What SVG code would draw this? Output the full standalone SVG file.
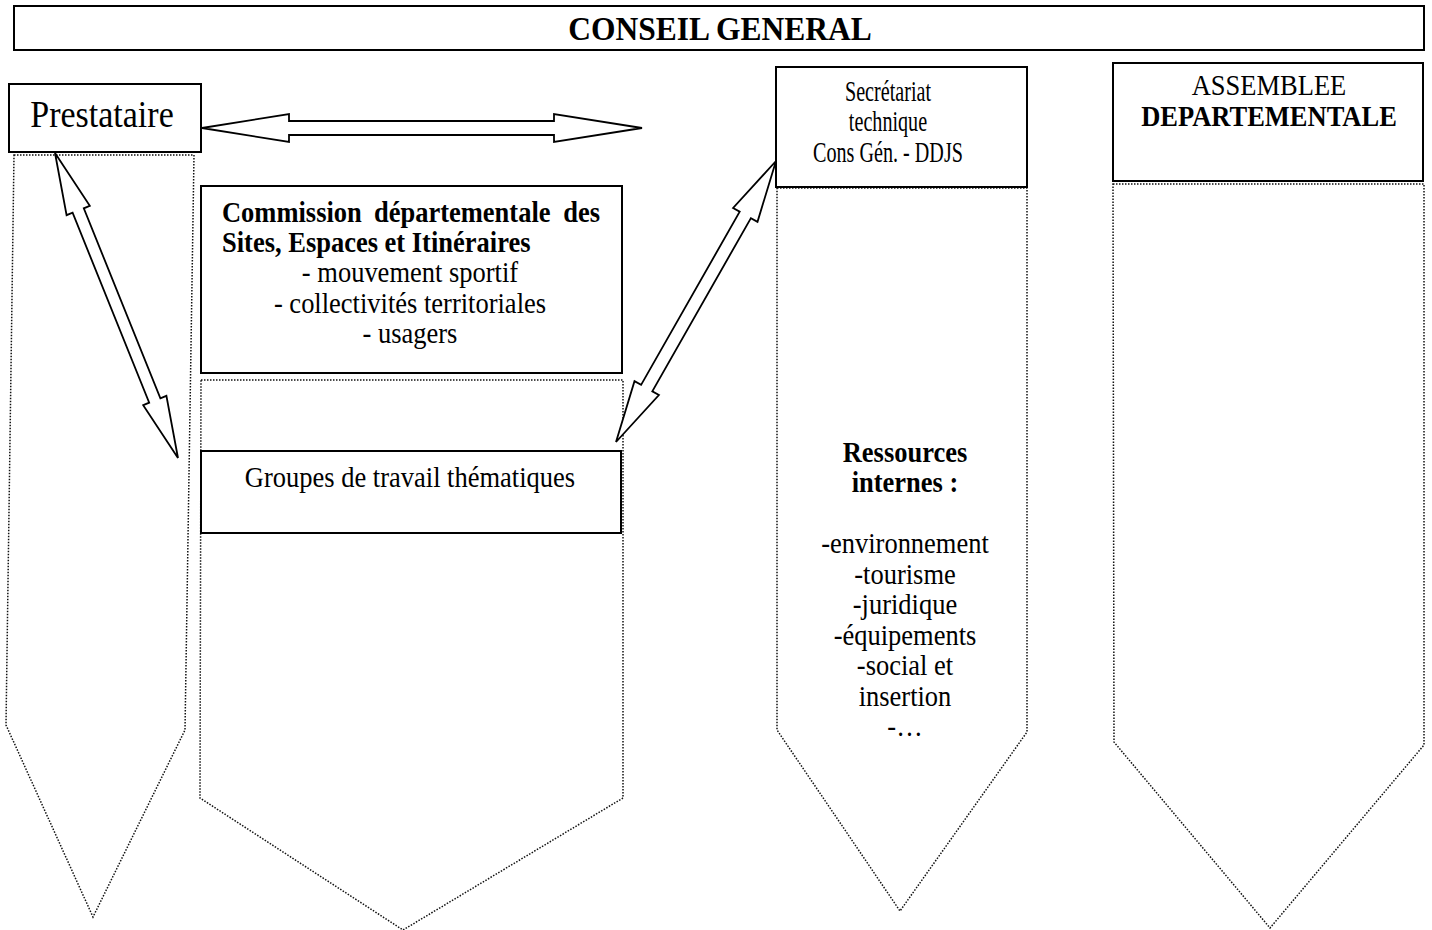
<svg xmlns="http://www.w3.org/2000/svg" width="1432" height="930" viewBox="0 0 1432 930">
<style>
.box{fill:#fff;stroke:#000;stroke-width:2}
.dot{fill:none;stroke:#111;stroke-width:1.5;stroke-dasharray:1.5 1.5}
.arr{fill:#fff;stroke:#000;stroke-width:1.8;stroke-linejoin:miter}
text{font-family:"Liberation Serif","Times New Roman",serif;fill:#000}
.t{font-size:26.5px}
.b{font-weight:bold}
.c{text-anchor:middle}
</style>
<rect width="1432" height="930" fill="#fff"/>
<g id="conseil-general">
<rect class="box" x="14" y="6" width="1410" height="44"/>
<text class="b c" x="720" y="40" font-size="31.5" transform="matrix(1,0,0,1.1,0,-4)">CONSEIL GENERAL</text>
</g>
<g id="prestataire-column">
<polygon class="dot" points="14,155 194,155 185,730 93,917 6,725"/>
</g>
<g id="commission-column">
<polygon class="dot" points="201,380 623,380 623,798 403,930 200,798"/>
</g>
<g id="ressources-internes">
<polygon class="dot" points="777,188 1027,188 1027,732 900,911 777,730"/>
<text class="t b c" x="905" y="462" transform="matrix(1,0,0,1.1,0,-46.2)">Ressources</text>
<text class="t b c" x="905" y="492.5" transform="matrix(1,0,0,1.1,0,-49.25)">internes :</text>
<text class="t c" x="905" y="553.5" transform="matrix(1,0,0,1.1,0,-55.35)">-environnement</text>
<text class="t c" x="905" y="584" transform="matrix(1,0,0,1.1,0,-58.4)">-tourisme</text>
<text class="t c" x="905" y="614.5" transform="matrix(1,0,0,1.1,0,-61.45)">-juridique</text>
<text class="t c" x="905" y="645" transform="matrix(1,0,0,1.1,0,-64.5)">-équipements</text>
<text class="t c" x="905" y="675.5" transform="matrix(1,0,0,1.1,0,-67.55)">-social et</text>
<text class="t c" x="905" y="706" transform="matrix(1,0,0,1.1,0,-70.6)">insertion</text>
<text class="t c" x="905" y="736.5" transform="matrix(1,0,0,1.1,0,-73.65)">-…</text>
</g>
<g id="assemblee-column">
<polygon class="dot" points="1113,184 1424,184 1424,745 1270,928 1114,742"/>
</g>
<g id="prestataire">
<rect class="box" x="9" y="84" width="192" height="68"/>
<text class="c" x="102" y="127" font-size="34" transform="matrix(1,0,0,1.1,0,-12.7)">Prestataire</text>
</g>
<g id="commission">
<rect class="box" x="201" y="186" width="421" height="187"/>
<text class="t b" y="222" transform="matrix(1,0,0,1.1,0,-22.2)"><tspan x="222">Commission</tspan><tspan x="374">départementale</tspan><tspan x="600" text-anchor="end">des</tspan></text>
<text class="t b" x="222" y="252" transform="matrix(1,0,0,1.1,0,-25.2)">Sites, Espaces et Itinéraires</text>
<text class="t c" x="410" y="282.5" transform="matrix(1,0,0,1.1,0,-28.25)">- mouvement sportif</text>
<text class="t c" x="410" y="313" transform="matrix(1,0,0,1.1,0,-31.3)">- collectivités territoriales</text>
<text class="t c" x="410" y="343.5" transform="matrix(1,0,0,1.1,0,-34.35)">- usagers</text>
</g>
<g id="groupes">
<rect class="box" x="201" y="451" width="420" height="82"/>
<text class="t c" x="410" y="487" transform="matrix(1,0,0,1.1,0,-48.7)">Groupes de travail thématiques</text>
</g>
<g id="secretariat">
<rect class="box" x="776" y="67" width="251" height="120"/>
<text class="t c" x="888" y="101" transform="matrix(0.76,0,0,1.1,213.12,-10.1)">Secrétariat</text>
<text class="t c" x="888" y="131.5" transform="matrix(0.76,0,0,1.1,213.12,-13.15)">technique</text>
<text class="t c" x="888" y="162" transform="matrix(0.76,0,0,1.1,213.12,-16.2)">Cons Gén. - DDJS</text>
</g>
<g id="assemblee">
<rect class="box" x="1113" y="63" width="310" height="118"/>
<text class="t c" x="1269" y="95" transform="matrix(1,0,0,1.1,0,-9.5)">ASSEMBLEE</text>
<text class="t b c" x="1269" y="126" transform="matrix(1,0,0,1.1,0,-12.6)">DEPARTEMENTALE</text>
</g>
<g id="connectors">
<polygon class="arr" points="202,128 289,142 289,135 554,135 554,142 642,128 554,114 554,121 289,121 289,114"/>
<polygon class="arr" points="55,153 66.6,215.2 72.6,212.7 149.2,402.7 143.2,405.2 178,458 166.4,395.8 160.4,398.3 83.8,208.3 89.8,205.8"/>
<polygon class="arr" points="776,161 733.1,208 739.7,211.7 641.1,384.9 634.5,381.2 616,442 658.9,395 652.3,391.3 750.9,218.1 757.5,221.8"/>
</g>
</svg>
